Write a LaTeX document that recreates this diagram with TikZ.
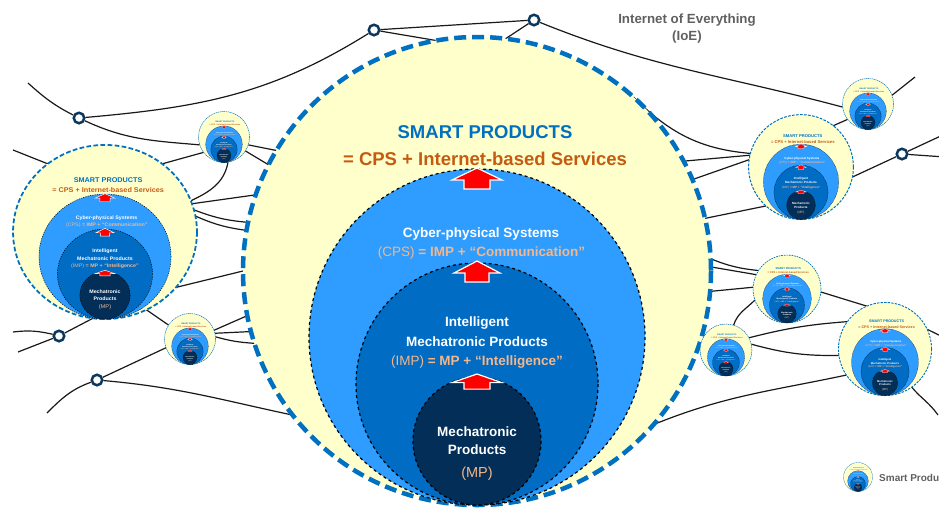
\documentclass[tikz,border=0pt]{standalone}
\usepackage{fontspec}
\setmainfont{Liberation Sans}
\usetikzlibrary{shapes.geometric}

\definecolor{paleyellow}{RGB}{255,255,204}
\definecolor{spblue}{RGB}{0,112,192}
\definecolor{cpsblue}{RGB}{46,157,255}
\definecolor{impblue}{RGB}{0,108,196}
\definecolor{mpnavy}{RGB}{2,46,88}
\definecolor{svcbrown}{RGB}{197,90,17}
\definecolor{tan}{RGB}{244,182,138}
\definecolor{hubnavy}{RGB}{12,56,96}
\definecolor{ioegrey}{RGB}{96,96,96}

\tikzset{
  link/.style={line width=1.2pt, black!90},
  hub/.style={circle, draw=hubnavy, fill=white, line width=2.5pt, minimum size=10.5pt, inner sep=0pt},
  rim/.style={ellipse, inner sep=0pt, outer sep=0pt},
  sptitle/.style={anchor=base, inner sep=0pt, font=\fontsize{18.5}{20}\selectfont\bfseries},
  sptext/.style={anchor=base, inner sep=0pt, font=\fontsize{13.5}{15}\selectfont\bfseries},
}

% smart products: name/centre x/centre y/x-scale/y-scale
\def\products{big/477/271/1/1, spLeft/105/232/0.393/0.372, spTop/224/137/0.109/0.109,
  spLow/190/339/0.109/0.109, spFar/868/104/0.109/0.109, spRight/801/167/0.224/0.224,
  spMid/787/289/0.145/0.145, spSmall/726/350/0.111/0.111, spEdge/885/349/0.199/0.199,
  spKey/858/477/0.062/0.062}

\begin{document}
\begin{tikzpicture}[x=1pt, y=-1pt]
\useasboundingbox (0,0) rectangle (939,507);
\clip (0,0) rectangle (939,507);

% outlines of the products, named for the links
\foreach \n/\cx/\cy/\sx/\sy in \products
  \node[rim, minimum width=468pt*\sx, minimum height=468pt*\sy] (\n) at (\cx,\cy) {};

% network hubs
\node[hub] (hub1) at (79,118) {};
\node[hub] (hub2) at (374,30) {};
\node[hub] (hub3) at (534,20) {};
\node[hub] (hub4) at (902,154) {};
\node[hub] (hub5) at (59,336) {};
\node[hub] (hub6) at (97,380) {};

% loose ends
\coordinate (nw1) at (28,83);
\coordinate (nw2) at (13,150);
\coordinate (w1) at (13,332);
\coordinate (w2) at (18,352);
\coordinate (sw1) at (47,413);
\coordinate (ne1) at (915,77);
\coordinate (e1) at (945,134);
\coordinate (e2) at (945,157);
\coordinate (e3) at (945,338);
\coordinate (se1) at (938,415);

% straight links
\foreach \a/\b in {hub2/hub3, hub2/big.100, hub3/big.83, nw2/spLeft.130,
  spLeft.50/spTop.217, spTop.-18/big.149, spTop.-33/big.153, spLeft.18/big.161,
  spLeft.-38/big.180, spLeft.-62/spLow.147, spLeft.262/hub5, w2/hub5,
  spLow.200/hub6, spLow.20/big.191, spLow.13/big.195, big.28/spRight.167,
  big.23/spRight.172, big.13/spRight.228, spRight.-11/hub4, hub4/e1, hub4/e2,
  spRight.52/spFar.217, spFar.20/ne1, big.1/spMid.155, big.-5/spMid.177,
  spMid.-5/spEdge.113, spEdge.25/e3}
  \draw[link] (\a) -- (\b);

% curved links
\draw[link] (nw1) to[out=-42,in=153] (hub1);
\draw[link] (hub1) to[out=5,in=-148] (hub2);
\draw[link] (hub1) to[out=-25,in=175] (spTop.198);
\draw[link] (hub3) to[out=-22,in=165] (spFar.187);
\draw[link] (spTop.-81) to[out=-100,in=25] (spLeft.20);
\draw[link] (spLeft.14) to[bend right=8] (big.168);
\draw[link] (spLeft.10) to[bend right=8] (big.170);
\draw[link] (w1) to[bend left=10] (hub5);
\draw[link] (hub6) to[out=200,in=45] (sw1);
\draw[link] (hub6) to[out=-5,in=168] (big.218);
\draw[link] (spLow.5) to[bend right=6] (big.198);
\draw[link] (big.48) to[out=-45,in=175] (spRight.165);
\draw[link] (big.3) to[bend right=8] (spMid.147);
\draw[link] (spMid.199) to[out=225,in=72] (spSmall.73);
\draw[link] (spSmall.28) to[bend left=5] (spEdge.144);
\draw[link] (spSmall.13) to[bend right=8] (spEdge.188);
\draw[link] (big.-41) to[out=22,in=192] (spEdge.214);
\draw[link] (spEdge.-55) to[out=-50,in=125] (se1);

% nested circles of every product
\foreach \n/\cx/\cy/\sx/\sy in \products {
  \pgfmathsetlengthmacro\lw{4.5pt*\sx}
  \pgfmathsetlengthmacro\dl{12pt*\sx}
  \pgfmathsetlengthmacro\dg{6pt*\sx}
  \pgfmathsetlengthmacro\lt{1.2pt*\sx}
  \pgfmathsetlengthmacro\ds{3pt*\sx}
  \begin{scope}[shift={(\cx,\cy)}, xscale=\sx, yscale=\sy, transform shape]
    \fill[paleyellow] (0,0) circle (234);
    \draw[spblue, line width=\lw, dash pattern=on \dl off \dg] (0,0) circle (234);
    \foreach \ry/\rad/\col in {66/168/cpsblue, 113/121/impblue, 170/64/mpnavy}
      \filldraw[fill=\col, draw=black, line width=\lt, dash pattern=on \ds off \ds] (0,\ry) circle (\rad);
    % red arrows between the layers
    \foreach \ty/\ax/\ay in {-103/1/1, -10/0.92/1, 103/1/0.72}
      \filldraw[fill=red, draw=white, line width=\lt, shift={(0,\ty)}, xscale=\ax, yscale=\ay]
        (0,0) -- (25,12) -- (13,12) -- (13,21) -- (-13,21) -- (-13,12) -- (-25,12) -- cycle;
    \node[sptitle, text=spblue] (\n-sp) at (8,-132.4) {SMART PRODUCTS};
    \node[sptitle, text=svcbrown] (\n-svc) at (8,-105.4) {= CPS + Internet-based Services};
    \node[sptext, text=white] (\n-cps) at (4,-33.5) {Cyber-physical Systems};
    \node[sptext, text=tan] (\n-cpseq) at (4.5,-14.3) {{\mdseries (CPS)} = IMP + “Communication”};
    \node[sptext, text=white] (\n-imp) at (0,55.8) {Intelligent};
    \node[sptext, text=white] (\n-imp2) at (0,75.8) {Mechatronic Products};
    \node[sptext, text=tan] (\n-impeq) at (0,94.8) {{\mdseries (IMP)} = MP + “Intelligence”};
    \node[sptext, text=white] (\n-mp) at (0,165.8) {Mechatronic};
    \node[sptext, text=white] (\n-mp2) at (0,183.8) {Products};
    \node[sptext, text=tan, font=\fontsize{14.5}{16}\selectfont] (\n-mpeq) at (0,206) {(MP)};
  \end{scope}
}

\node[font=\fontsize{13.3}{17}\selectfont\bfseries, text=ioegrey, align=center] (ioe) at (687,28.5)
  {Internet of Everything\\(IoE)};
\node[font=\fontsize{10}{12}\selectfont\bfseries, text=ioegrey, anchor=base west, inner sep=0pt] (keytext)
  at (879,481.6) {Smart Products};
\end{tikzpicture}
\end{document}
